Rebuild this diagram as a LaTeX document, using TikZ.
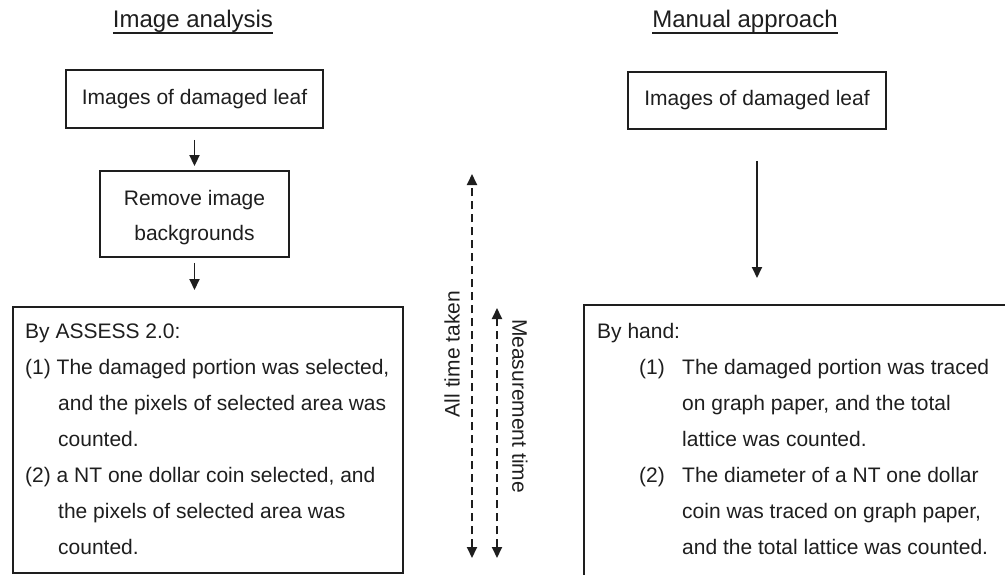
\documentclass[tikz,border=0pt]{standalone}
\usepackage{fontspec}
\setmainfont{Liberation Sans}
\usetikzlibrary{arrows.meta}
\definecolor{ink}{HTML}{1E1E1E}
\begin{document}
\begin{tikzpicture}[x=1pt,y=-1pt,
  every node/.style={text=ink},
  body/.style={font=\fontsize{21}{36}\selectfont},
  line/.style={body, inner sep=0pt, anchor=base west},
  ttl/.style={font=\fontsize{24}{28}\selectfont, inner sep=0pt, anchor=base},
  box/.style={draw=ink, line width=1.9pt, body, align=center, inner sep=0pt},
  frame/.style={draw=ink, line width=1.9pt, inner sep=0pt, anchor=north west},
  arr/.style={draw=ink, line width=1.9pt, -{Triangle[width=10pt,length=11pt]}},
  darr/.style={draw=ink, line width=1.9pt, dash pattern=on 8pt off 5pt,
    {Triangle[width=10pt,length=11pt]}-{Triangle[width=10pt,length=11pt]}},
  lab/.style={body, inner sep=0pt}
]
\clip (0,0) rectangle (1005,574);
\useasboundingbox (0,0) rectangle (1005,574);

% titles
\node[ttl] (t1) at (193,27) {Image analysis};
\draw[ink, line width=1.9pt] ([yshift=-6pt]t1.base west) -- ([yshift=-6pt]t1.base east);
\node[ttl] (t2) at (745,27) {Manual approach};
\draw[ink, line width=1.9pt] ([yshift=-6pt]t2.base west) -- ([yshift=-6pt]t2.base east);

% left column
\node[box, minimum width=257, minimum height=58] (b1) at (194.5,99) {Images of damaged leaf};
\node[box, minimum width=189, minimum height=86] (b2) at (194.5,214) {};
\node[body, inner sep=0pt, anchor=base] (b2a) at (194.5,205) {Remove image};
\node[body, inner sep=0pt, anchor=base] (b2b) at (194.5,240) {backgrounds};
\node[frame, minimum width=390, minimum height=266] (lb) at (12,306) {};
\draw[arr, shorten <=11pt, shorten >=4pt] (b1) -- (b2);
\draw[arr, shorten <=5pt, shorten >=16pt] (b2.south) -- (b2.south |- lb.north);

\node[line] (l1) at (25,338) {By ASSESS 2.0:};
\node[line] (l2) at (25,374) {(1) The damaged portion was selected,};
\node[line] (l3) at (58,410) {and the pixels of selected area was};
\node[line] (l4) at (58,446) {counted.};
\node[line] (l5) at (25,482) {(2) a NT one dollar coin selected, and};
\node[line] (l6) at (58,518) {the pixels of selected area was};
\node[line] (l7) at (58,554) {counted.};

% right column
\node[box, minimum width=258, minimum height=57] (r1) at (757,100.5) {Images of damaged leaf};
\node[frame, minimum width=500, minimum height=320] (rb) at (583,304) {};
\draw[arr, shorten <=31pt, shorten >=26pt] (r1.south) -- (r1.south |- rb.north);

\node[line] (m1) at (597,338) {By hand:};
\node[line] (m2n) at (639,374) {(1)};
\node[line] (m2) at (682,374) {The damaged portion was traced};
\node[line] (m3) at (682,410) {on graph paper, and the total};
\node[line] (m4) at (682,446) {lattice was counted.};
\node[line] (m5n) at (639,482) {(2)};
\node[line] (m5) at (682,482) {The diameter of a NT one dollar};
\node[line] (m6) at (682,518) {coin was traced on graph paper,};
\node[line] (m7) at (682,554) {and the total lattice was counted.};

% time arrows
\coordinate (a1t) at (472,174);
\coordinate (a1b) at (472,558);
\coordinate (a2t) at (497,308);
\coordinate (a2b) at (497,558);
\draw[darr] (a1b) -- (a1t);
\draw[darr] (a2b) -- (a2t);
\node[lab, rotate=90] (al) at (452,354) {All time taken};
\node[lab, rotate=-90] (ml) at (520,406) {Measurement time};
\end{tikzpicture}
\end{document}
